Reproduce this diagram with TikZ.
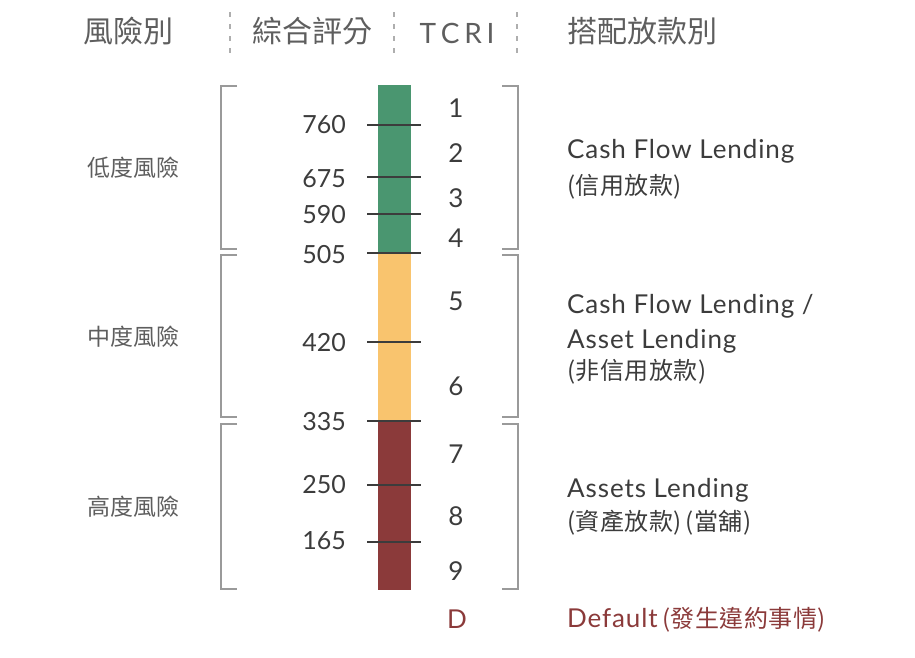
\documentclass[tikz,border=0pt]{standalone}
\usepackage{fontspec}
\setmainfont{Lato}
\newfontfamily\latwide{Lato}[LetterSpace=3.5]
\newfontfamily\cjk{Noto Sans CJK TC}
\newfontfamily\cjkwide{Noto Sans CJK TC}[LetterSpace=2]
\definecolor{riskgreen}{HTML}{4A9670}
\definecolor{riskorange}{HTML}{F9C46E}
\definecolor{riskred}{HTML}{8B3A3A}
\definecolor{textdark}{HTML}{3C3C3C}
\definecolor{textgray}{HTML}{5E5E5E}
\definecolor{bracketgray}{HTML}{9A9A9A}
\begin{document}
\begin{tikzpicture}[x=1pt,y=-1pt,
  headcjk/.style={inner sep=0pt, text=textgray, font=\cjk\fontsize{30}{30}\selectfont},
  headlat/.style={inner sep=0pt, text=textgray, font=\fontsize{28}{28}\selectfont},
  sepline/.style={line width=1.2pt, bracketgray!80, dash pattern=on 5pt off 7pt},
  bracket/.style={line width=2pt, bracketgray},
  tickline/.style={line width=2pt, textdark},
  score/.style={inner sep=0pt, text=textdark, font=\fontsize{25}{25}\selectfont},
  tcri/.style={inner sep=0pt, text=textdark, font=\fontsize{26}{26}\selectfont},
  risklabel/.style={inner sep=0pt, text=textgray, font=\cjk\fontsize{23}{23}\selectfont},
  lendlat/.style={inner sep=0pt, text=textdark, font=\latwide\fontsize{26}{26}\selectfont},
  lendcjk/.style={inner sep=0pt, text=textdark, font=\cjkwide\fontsize{24}{24}\selectfont}]
\useasboundingbox (0,0) rectangle (915,657);

% Drawing header
\node[headcjk, anchor=base west] (hrisk) at (83,42) {風險別};
\node[headcjk, anchor=base west] (hscore) at (252,42) {綜合評分};
\node[headlat, anchor=base] (htcri) at (457,43) {T\,C\,R\,I};
\node[headcjk, anchor=base west] (hlend) at (567,42) {搭配放款別};
\foreach \x in {230,394,517}
  \draw[sepline] (\x,12) -- (\x,54);

% Drawing colour bar
\fill[riskgreen] (378,85) rectangle (411,253);
\fill[riskorange] (378,253) rectangle (411,421);
\fill[riskred] (378,421) rectangle (411,590);
\foreach \y in {125,177,214,253,342,421,485,542}
  \draw[tickline] (367,\y) -- (421,\y);

% Scores
\foreach \s/\y in {760/133,675/187,590/223,505/263,420/351,335/430,250/493,165/549}
  \node[score, anchor=base east] (s\s) at (346,\y) {\s};

% TCRI grades
\foreach \t/\y in {1/117,2/162,3/207,4/247,5/310,6/395,7/463,8/525,9/580}
  \node[tcri, anchor=base] (t\t) at (456,\y) {\t};
\node[tcri, anchor=base, text=riskred] (tD) at (457,628) {D};

% Brackets
\draw[bracket] (237,86) -- (221,86) -- (221,249) -- (237,249);
\draw[bracket] (237,255) -- (221,255) -- (221,417) -- (237,417);
\draw[bracket] (237,424) -- (221,424) -- (221,589) -- (237,589);
\draw[bracket] (502,86) -- (518,86) -- (518,249) -- (502,249);
\draw[bracket] (502,255) -- (518,255) -- (518,417) -- (502,417);
\draw[bracket] (502,424) -- (518,424) -- (518,589) -- (502,589);

% Risk levels
\node[risklabel, anchor=base] (low) at (133,176) {低度風險};
\node[risklabel, anchor=base] (mid) at (133,345) {中度風險};
\node[risklabel, anchor=base] (high) at (133,515) {高度風險};

% Lending types
\node[lendlat, anchor=base west] (cash) at (567,158) {Cash Flow Lending};
\node[lendcjk, anchor=base west] (cashzh) at (567,194) {(信用放款)};
\node[lendlat, anchor=base west] (mixa) at (567,313) {Cash Flow Lending /};
\node[lendlat, anchor=base west] (mixb) at (567,348) {Asset Lending};
\node[lendcjk, anchor=base west] (mixzh) at (567,379) {(非信用放款)};
\node[lendlat, anchor=base west] (asset) at (567,497) {Assets Lending};
\node[lendcjk, anchor=base west] (assetzh) at (567,530) {(資產放款)\,(當舖)};
\node[lendlat, anchor=base west, text=riskred] (default) at (567,627) {Default\,{\cjkwide\fontsize{24}{24}\selectfont(發生違約事情)}};
\end{tikzpicture}
\end{document}
